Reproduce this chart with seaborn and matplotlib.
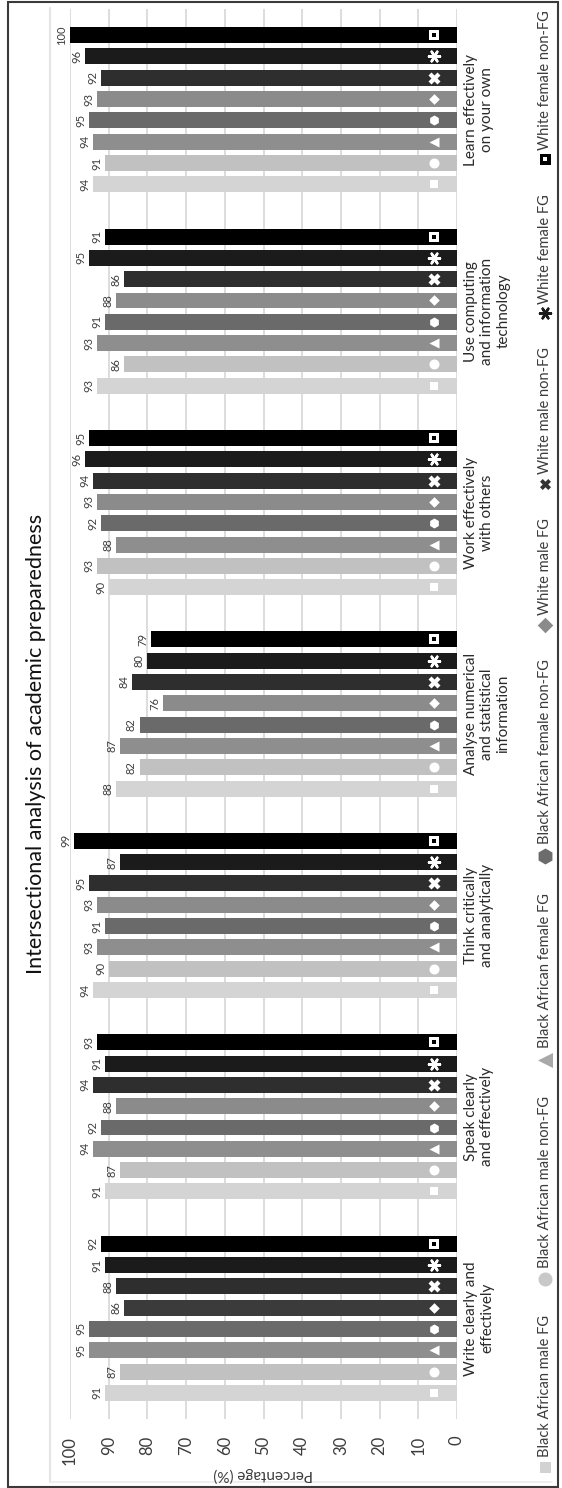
import numpy as np
import pandas as pd
import matplotlib
matplotlib.use("Agg")
import matplotlib.pyplot as plt
import seaborn as sns
from matplotlib.patches import Rectangle

# ---- data -------------------------------------------------------------
skills = [
    "Write clearly and\neffectively",
    "Speak clearly\nand effectively",
    "Think critically\nand analytically",
    "Analyse numerical\nand statistical\ninformation",
    "Work effectively\nwith others",
    "Use computing\nand information\ntechnology",
    "Learn effectively\non your own",
]
groups = [
    "Black African male FG",
    "Black African male non-FG",
    "Black African female FG",
    "Black African female non-FG",
    "White male FG",
    "White male non-FG",
    "White female FG",
    "White female non-FG",
]
ba_male_fg = [91, 91, 94, 88, 90, 93, 94]
ba_male_nonfg = [87, 87, 90, 82, 93, 86, 91]
ba_female_fg = [95, 94, 93, 87, 88, 93, 94]
ba_female_nonfg = [95, 92, 91, 82, 92, 91, 95]
white_male_fg = [86, 88, 93, 76, 93, 88, 93]
white_male_nonfg = [88, 94, 95, 84, 94, 86, 92]
white_female_fg = [91, 91, 87, 80, 96, 95, 96]
white_female_nonfg = [92, 93, 99, 79, 95, 91, 100]
series = [ba_male_fg, ba_male_nonfg, ba_female_fg, ba_female_nonfg,
          white_male_fg, white_male_nonfg, white_female_fg, white_female_nonfg]

title = "Intersectional analysis of academic preparedness"
value_ticks = list(range(0, 101, 10))

# ---- styling ----------------------------------------------------------
bar_colors = ["#d4d4d4", "#c1c1c1", "#8e8e8e", "#6a6a6a",
              "#8b8b8b", "#2e2e2e", "#1b1b1b", "#000000"]
legend_colors = ["#d2d2d2", "#c8c8c8", "#a9a9a9", "#6c6c6c",
                 "#8b8b8b", "#333333", "#1b1b1b", "#000000"]
icon_markers = ["s", "o", "<", "h", "D", "X", (6, 2, 90), "s"]
icon_px = [8, 10, 10, 10, 7.5, 12, 11, 10]
legend_px = [11, 14, 15, 16, 11, 11, 11, 11]
text_col = "#3c3c3c"

sns.set_theme(style="white")
plt.rcParams["font.family"] = ["Lato", "DejaVu Sans"]

df = pd.DataFrame({
    "skill": np.tile(skills, len(groups)),
    "group": np.repeat(groups, len(skills)),
    "pct": np.concatenate(series),
})

W, H = 562, 1488
fig = plt.figure(figsize=(W / 100, H / 100), dpi=100)
fig.patch.set_facecolor("white")

# overlay canvas in pixel units for frame, title and legend
lax = fig.add_axes([0, 0, 1, 1], zorder=0)
lax.set_xlim(0, W)
lax.set_ylim(H, 0)
lax.axis("off")

ax = fig.add_axes([70 / W, 1 - 1419 / H, 387 / W, 1410 / H], zorder=1)
sns.barplot(data=df, x="pct", y="skill", hue="group", order=skills,
            hue_order=groups, palette=bar_colors, orient="y", width=0.846,
            gap=0.25, saturation=1, errorbar=None, legend=False, ax=ax,
            linewidth=0)
ax.set_ylim(-0.5, len(skills) - 0.5)
ax.set_xlim(100, 0)
ax.set_axisbelow(True)
ax.xaxis.grid(True, color="#dadada", linewidth=1.3)
ax.yaxis.grid(False)
for s in ax.spines.values():
    s.set_visible(False)

ax.set_xticks(value_ticks)
ax.set_xticklabels([str(v) for v in value_ticks], rotation=90,
                   fontsize=12, color=text_col)
ax.tick_params(axis="x", length=0, pad=12)
ax.set_xlabel("Percentage (%)", rotation=180, fontsize=11,
              color=text_col, labelpad=2)

ax.yaxis.tick_right()
ax.set_yticks(range(len(skills)))
ax.set_yticklabels(skills, rotation=90, ha="left", va="center",
                   multialignment="center", fontsize=11, color="#2a2a2a")
ax.tick_params(axis="y", length=0, pad=5)
ax.set_ylabel("")

# the diamond bar of the first skill is drawn in a darker shade
for p in ax.containers[4].patches:
    if abs(p.get_y() + p.get_height() / 2 - 0) < 0.5:
        p.set_facecolor("#3b3b3b")

# value labels and white icons inside the bars
for i, cont in enumerate(ax.containers):
    ax.bar_label(cont, padding=2, rotation=90, fontsize=8, color=text_col)
    ys = [p.get_y() + p.get_height() / 2 for p in cont.patches]
    xs = [6] * len(ys)
    s = (icon_px[i] * 0.72) ** 2
    if icon_markers[i] == (6, 2, 90):
        ax.scatter(xs, ys, marker=icon_markers[i], s=s, color="white",
                   linewidths=1.8, zorder=4)
    else:
        ax.scatter(xs, ys, marker=icon_markers[i], s=s, color="white",
                   linewidths=0, zorder=4)
    if i == len(groups) - 1:
        ax.scatter(xs, ys, marker="s", s=(3.5 * 0.72) ** 2, color="black",
                   linewidths=0, zorder=5)

# title
fig.text(36 / W, 0.5, title, rotation=90, ha="center", va="center",
         fontsize=15.5, color="#111111")

# frame and light chart-area border
lax.add_patch(Rectangle((8, 1.5), 550, 1485, fill=False, ec="#3a3a3a", lw=1.5))
lax.plot([50, 50], [8, 1482], color="#e4e4e4", lw=1.5)
lax.plot([50, 552], [1482, 1482], color="#ececec", lw=1.2)

# legend, laid out bottom to top along the right edge
x_leg = 545
texts = [lax.text(x_leg, 0, g, rotation=90, ha="center", va="bottom",
                  fontsize=10.5, color=text_col) for g in groups]
fig.canvas.draw()
rend = fig.canvas.get_renderer()
lens = [t.get_window_extent(rend).height for t in texts]
y_bot, y_top, inner = 1472, 10, 4
gap = (y_bot - y_top - sum(legend_px) - sum(lens) - inner * len(groups)) / (len(groups) - 1)
y = y_bot
for i, g in enumerate(groups):
    m = legend_px[i]
    s = (m * 0.72) ** 2
    lw = 1.8 if icon_markers[i] == (6, 2, 90) else 0
    lax.scatter([x_leg], [y - m / 2], marker=icon_markers[i], s=s,
                color=legend_colors[i], linewidths=lw)
    if i == len(groups) - 1:
        lax.scatter([x_leg], [y - m / 2], marker="s", s=(4 * 0.72) ** 2,
                    color="white", linewidths=0)
    y -= m + inner
    texts[i].set_position((x_leg, y))
    y -= lens[i] + gap

fig.savefig("out.png", dpi=100, facecolor="white")
